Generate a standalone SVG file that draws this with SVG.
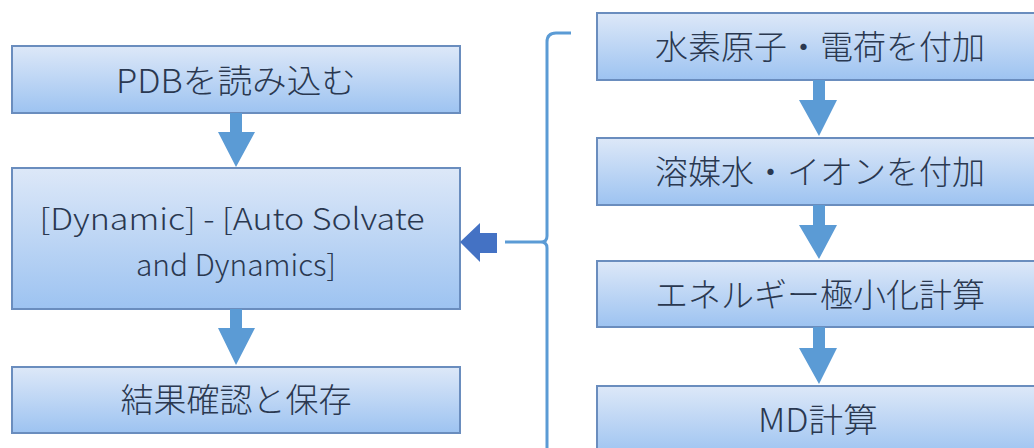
<svg xmlns="http://www.w3.org/2000/svg" width="1034" height="448" viewBox="0 0 1034 448">
<defs>
<linearGradient id="g" x1="0" y1="0" x2="0" y2="1">
<stop offset="0" stop-color="#DDE8F8"/>
<stop offset="1" stop-color="#9DC3F1"/>
</linearGradient>
<style>
.box{fill:url(#g);stroke:#6A8DBE;stroke-width:2}
.t{font-family:"Noto Sans CJK JP","Noto Sans",sans-serif;font-size:33px;font-weight:300;fill:#2A3850;text-anchor:middle}
.s{font-size:30px}
.arr{fill:#5B9BD5}
</style>
</defs>
<rect width="1034" height="448" fill="#FFFFFF"/>
<g id="n1"><rect class="box" x="12" y="46" width="448" height="67"/><text class="t" x="236" y="93" textLength="240" lengthAdjust="spacingAndGlyphs">PDBを読み込む</text></g>
<g id="n2"><rect class="box" x="12" y="168" width="448" height="141"/><text class="t s" x="232" y="230" textLength="385" lengthAdjust="spacingAndGlyphs">[Dynamic] - [Auto Solvate</text><text class="t s" x="236" y="276" textLength="200" lengthAdjust="spacingAndGlyphs">and Dynamics]</text></g>
<g id="n3"><rect class="box" x="12" y="367" width="448" height="66"/><text class="t" x="236" y="412">結果確認と保存</text></g>
<g id="r1"><rect class="box" x="597" y="13" width="446" height="67"/><text class="t" x="820" y="59">水素原子・電荷を付加</text></g>
<g id="r2"><rect class="box" x="597" y="138" width="446" height="67"/><text class="t" x="820" y="184">溶媒水・イオンを付加</text></g>
<g id="r3"><rect class="box" x="597" y="261" width="446" height="66"/><text class="t" x="820" y="307">エネルギー極小化計算</text></g>
<g id="r4"><rect class="box" x="597" y="386" width="446" height="70"/><text class="t" x="818" y="432" textLength="120" lengthAdjust="spacingAndGlyphs">MD計算</text></g>
<g id="connectors">
<polygon class="arr" points="230,113 242,113 242,132 255,132 236,167 218,132 230,132"/>
<polygon class="arr" points="230,309 242,309 242,328 255,328 236,365 218,328 230,328"/>
<polygon class="arr" points="813,80 825,80 825,100 837,100 819,136 799,100 813,100"/>
<polygon class="arr" points="813,205 825,205 825,225 837,225 819,259 799,225 813,225"/>
<polygon class="arr" points="813,327 825,327 825,348 837,348 819,384 799,348 813,348"/>
<path d="M571,33 L556,33 Q547,33 547,42 L547,236 Q547,242 541,242 L505,242 M541,242 Q547,242 547,248 L547,448" fill="none" stroke="#5B9BD5" stroke-width="3"/>
<polygon points="460,242 480,223 480,233 497,233 497,253 480,253 480,262" fill="#4472C4"/>
</g>
</svg>
